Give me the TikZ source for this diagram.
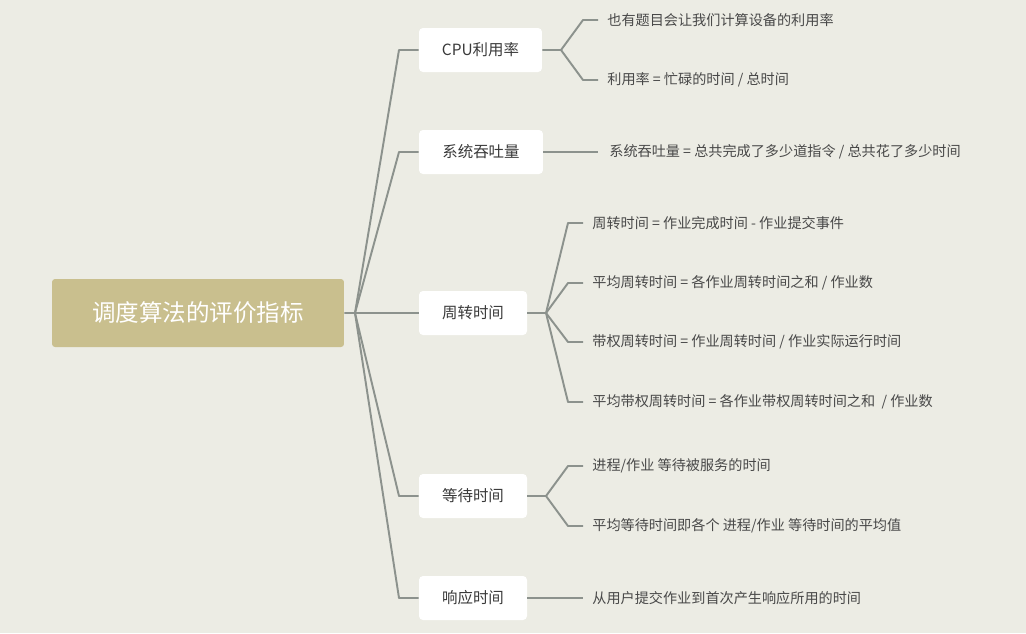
\documentclass[tikz,border=0pt]{standalone}
\usepackage{fontspec}
\setmainfont{Noto Sans CJK SC}
\usepackage{tikz}
\definecolor{bgcolor}{RGB}{236,236,228}
\definecolor{rootcolor}{RGB}{201,191,142}
\definecolor{linecolor}{RGB}{140,146,141}
\definecolor{textcolor}{RGB}{72,72,72}
\tikzset{
  branch/.style={draw=linecolor,line width=1.1pt,line join=round},
  rootbox/.style={fill=rootcolor,rounded corners=0.06cm,minimum width=5.84cm,
    minimum height=1.36cm,text=white,font=\fontsize{13.4pt}{15pt}\selectfont},
  topicbox/.style={fill=white,rounded corners=0.08cm,minimum height=0.88cm,
    text=textcolor!80!black,font=\fontsize{8.8pt}{10pt}\selectfont},
  detail/.style={anchor=west,inner ysep=0pt,inner xsep=0.18cm,
    text=textcolor,font=\fontsize{8.05pt}{10pt}\selectfont}
}

\begin{document}
\begin{tikzpicture}[x=0.02cm,y=-0.02cm]
  \fill[bgcolor] (0,0) rectangle (1026,633);
  \useasboundingbox (0,0) rectangle (1026,633);
  % root and topics
  \node[rootbox] (root) at (198,313) {\raisebox{-0.1em}{调度算法的评价指标}};
  \node[topicbox,minimum width=2.46cm] (cpu)  at (480.5,50)  {CPU利用率};
  \node[topicbox,minimum width=2.48cm] (tput) at (481,152)   {系统吞吐量};
  \node[topicbox,minimum width=2.16cm] (turn) at (473,313)   {周转时间};
  \node[topicbox,minimum width=2.16cm] (wait) at (473,496)   {等待时间};
  \node[topicbox,minimum width=2.16cm] (resp) at (473,598)   {响应时间};
  % details
  \node[detail] (cpuA)  at (598,20)  {也有题目会让我们计算设备的利用率};
  \node[detail] (cpuB)  at (598,80)  {利用率 = 忙碌的时间 / 总时间};
  \node[detail,inner xsep=0.22cm] (tputA) at (598,152) {系统吞吐量 = 总共完成了多少道指令 / 总共花了多少时间};
  \node[detail] (turnA) at (583,223) {周转时间 = 作业完成时间 - 作业提交事件};
  \node[detail] (turnB) at (583,283) {平均周转时间 = 各作业周转时间之和 / 作业数};
  \node[detail] (turnC) at (583,342) {带权周转时间 = 作业周转时间 / 作业实际运行时间};
  \node[detail] (turnD) at (583,402) {平均带权周转时间 = 各作业带权周转时间之和 \ / 作业数};
  \node[detail] (waitA) at (583,466) {进程/作业 等待被服务的时间};
  \node[detail] (waitB) at (583,526) {平均等待时间即各个 进程/作业 等待时间的平均值};
  \node[detail] (respA) at (583,598) {从用户提交作业到首次产生响应所用的时间};
  % hubs
  \coordinate (hub)     at (355,313);
  \coordinate (cpuhub)  at (561,50);
  \coordinate (turnhub) at (546,313);
  \coordinate (waithub) at (546,496);
  % root to topics
  \draw (root.east) -- (hub) -- (399,50)  -- (cpu.west)  [branch];
  \draw (hub) -- (399,152) -- (tput.west) [branch];
  \draw (hub) -- (turn.west) [branch];
  \draw (hub) -- (399,496) -- (wait.west) [branch];
  \draw (hub) -- (399,598) -- (resp.west) [branch];
  % topics to details
  \draw (cpu.east) -- (cpuhub) -- (583,20) -- (cpuA.west) [branch];
  \draw (cpuhub) -- (583,80) -- (cpuB.west) [branch];
  \draw (tput.east) -- (tput.east -| tputA.west) [branch];
  \draw (turn.east) -- (turnhub) [branch];
  \draw (turnhub) -- (568,223) -- (turnA.west) [branch];
  \draw (turnhub) -- (568,283) -- (turnB.west) [branch];
  \draw (turnhub) -- (568,342) -- (turnC.west) [branch];
  \draw (turnhub) -- (568,402) -- (turnD.west) [branch];
  \draw (wait.east) -- (waithub) [branch];
  \draw (waithub) -- (568,466) -- (waitA.west) [branch];
  \draw (waithub) -- (568,526) -- (waitB.west) [branch];
  \draw (resp.east) -- (resp.east -| respA.west) [branch];
\end{tikzpicture}
\end{document}
